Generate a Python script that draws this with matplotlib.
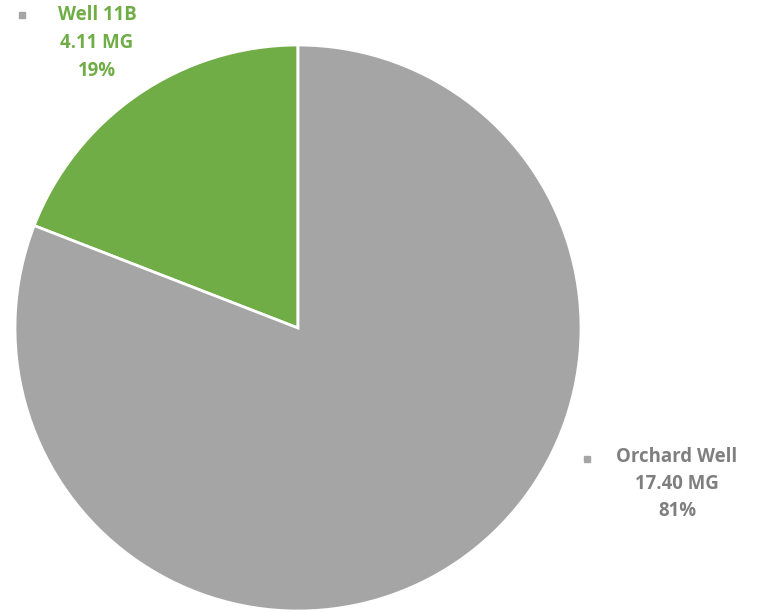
import matplotlib.pyplot as plt

labels = ['Well 11B', 'Orchard Well']
volumes_mg = [4.11, 17.40]
colors = ['#70ad47', '#a5a5a5']
text_colors = ['#70ad47', '#7f7f7f']

W, H = 761, 613
fig = plt.figure(figsize=(W / 100, H / 100), dpi=100)

# pie centre ~ (298, 328) px, radius ~283 px
cx, cy, r = 298, 328, 283
ax = fig.add_axes([(cx - r) / W, (H - cy - r) / H, 2 * r / W, 2 * r / H])
ax.pie(volumes_mg, colors=colors, startangle=90, counterclock=True,
       wedgeprops=dict(edgecolor='white', linewidth=2))
ax.set_xlim(-1, 1)
ax.set_ylim(-1, 1)
ax.set_aspect('auto')

total = sum(volumes_mg)
# label centre (px) and legend-marker position (px) for each slice
label_pos = [(97, 43), (677, 484)]
marker_pos = [(22, 15), (587, 459)]

for name, v, tc, (lx, ly), (mx, my) in zip(labels, volumes_mg, text_colors,
                                          label_pos, marker_pos):
    pct = round(100 * v / total)
    fig.text(lx / W, 1 - ly / H, f'{name}\n{v:.2f} MG\n{pct}%',
             ha='center', va='center', color=tc, fontsize=13.4,
             fontweight='bold', family='Open Sans', linespacing=1.5)
    fig.patches.append(plt.Rectangle(((mx - 3) / W, 1 - (my + 3) / H),
                                     6 / W, 6 / H, transform=fig.transFigure,
                                     color='#a5a5a5', figure=fig))

fig.savefig('out.png', dpi=100)
